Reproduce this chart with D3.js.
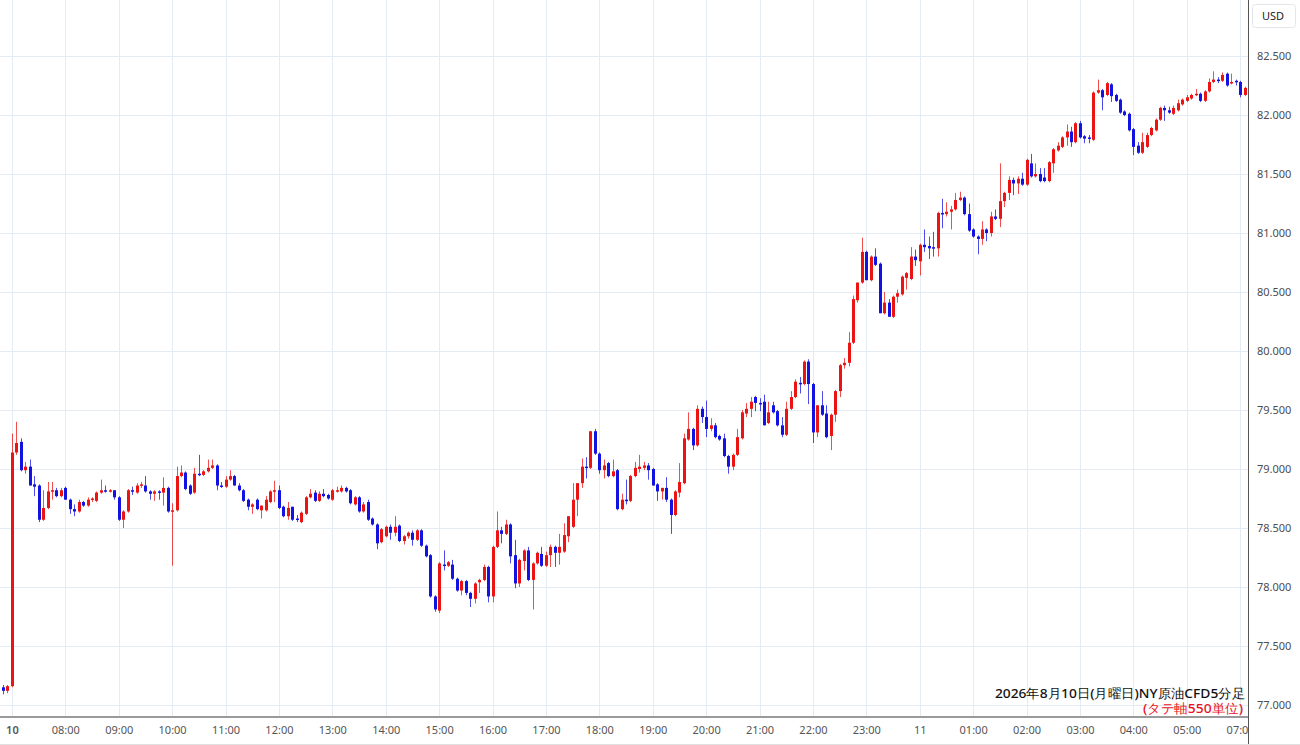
<!DOCTYPE html>
<html><head><meta charset="utf-8">
<script src="https://cdn.jsdelivr.net/npm/d3@7/dist/d3.min.js"></script>
<style>
html,body{margin:0;padding:0;background:#fff;}
svg{display:block;}
text{font-family:"Noto Sans","Open Sans",sans-serif;}
</style></head>
<body>
<svg id="chart" width="1300" height="745"></svg>
<script>
// ---- data (5-minute candles, index = candle number) ----
const opens = [77.15,77.12,77.16,79.14,79.23,78.99,79.02,78.87,78.86,78.57,78.67,78.81,78.82,78.77,78.84,78.74,78.66,78.64,78.72,78.69,
78.74,78.73,78.80,78.82,78.81,78.82,78.76,78.57,78.64,78.82,78.80,78.86,78.86,78.81,78.79,78.81,78.80,78.84,78.64,78.65,
78.94,78.97,78.86,78.80,78.96,78.95,78.98,79.01,79.03,78.86,78.85,78.91,78.94,78.86,78.82,78.74,78.68,78.74,78.65,78.65,
78.72,78.81,78.82,78.68,78.60,78.68,78.58,78.55,78.62,78.76,78.80,78.73,78.79,78.78,78.74,78.81,78.81,78.84,78.82,78.70,
78.76,78.64,78.72,78.58,78.53,78.38,78.43,78.51,78.46,78.52,78.39,78.43,78.46,78.40,78.48,78.35,78.27,77.92,77.80,78.19,
78.18,78.19,78.07,77.97,78.05,77.95,77.90,78.04,78.06,78.17,77.92,78.34,78.48,78.45,78.53,78.27,78.03,78.22,78.31,78.06,
78.20,78.28,78.18,78.27,78.34,78.29,78.30,78.43,78.51,78.74,78.88,79.02,79.01,79.32,79.13,78.99,79.05,78.94,78.99,78.66,
78.74,78.73,78.94,79.00,79.01,79.03,79.00,78.87,78.81,78.84,78.74,78.61,78.80,78.88,79.25,79.34,79.20,79.51,79.44,79.34,
79.37,79.28,79.26,79.11,79.02,79.12,79.26,79.47,79.51,79.61,79.56,79.57,79.39,79.54,79.49,79.37,79.29,79.51,79.61,79.73,
79.72,79.91,79.72,79.31,79.54,79.47,79.28,79.46,79.66,79.88,79.90,80.07,80.43,80.58,80.84,80.60,80.80,80.74,80.32,80.41,
80.29,80.46,80.48,80.62,80.61,80.80,80.76,80.90,80.89,80.88,80.87,81.17,81.16,81.18,81.20,81.28,81.30,81.16,81.03,80.97,
80.95,81.03,81.00,81.14,81.12,81.27,81.34,81.45,81.42,81.46,81.41,81.59,81.48,81.50,81.47,81.44,81.59,81.70,81.73,81.81,
81.86,81.77,81.93,81.82,81.81,81.79,82.19,82.21,82.17,82.26,82.17,82.13,82.03,82.01,81.88,81.74,81.68,81.73,81.83,81.87,
81.96,82.06,82.04,82.01,82.04,82.09,82.12,82.14,82.17,82.18,82.12,82.20,82.28,82.30,82.29,82.35,82.27,82.29,82.28,82.17];
const highs = [77.17,77.17,79.30,79.40,79.26,79.06,79.08,78.94,78.87,78.82,78.89,78.89,78.84,78.84,78.85,78.75,78.70,78.74,78.73,78.76,
78.76,78.81,78.91,78.86,78.83,78.82,78.77,78.65,78.83,78.85,78.88,78.89,78.94,78.82,78.82,78.82,78.93,78.85,78.71,79.02,
79.03,78.98,78.87,79.01,79.12,78.99,79.08,79.08,79.04,78.89,78.94,78.99,78.95,78.88,78.83,78.75,78.71,78.75,78.69,78.77,
78.82,78.90,78.86,78.69,78.72,78.68,78.61,78.64,78.77,78.83,78.82,78.81,78.83,78.79,78.83,78.85,78.86,78.85,78.83,78.77,
78.77,78.72,78.74,78.59,78.54,78.50,78.52,78.53,78.60,78.53,78.44,78.47,78.48,78.49,78.49,78.36,78.28,77.93,78.21,78.31,
78.22,78.23,78.08,78.06,78.06,77.96,78.04,78.07,78.19,78.18,78.35,78.64,78.51,78.57,78.54,78.40,78.24,78.32,78.34,78.21,
78.30,78.34,78.30,78.36,78.35,78.45,78.54,78.60,78.88,78.88,79.09,79.10,79.32,79.34,79.14,79.08,79.06,79.08,79.00,78.79,
78.91,78.95,79.06,79.12,79.06,79.05,79.01,78.88,78.84,78.93,78.75,78.82,79.05,79.30,79.48,79.35,79.54,79.53,79.58,79.43,
79.39,79.29,79.30,79.12,79.13,79.34,79.50,79.56,79.61,79.62,79.60,79.63,79.57,79.57,79.50,79.44,79.57,79.66,79.76,79.78,
79.92,79.93,79.73,79.54,79.66,79.54,79.47,79.67,79.89,79.94,80.16,80.47,80.58,80.96,80.85,80.81,80.87,80.75,80.50,80.44,
80.47,80.52,80.64,80.67,80.88,80.86,80.91,81.03,80.97,81.01,81.18,81.29,81.26,81.23,81.34,81.35,81.31,81.25,81.04,80.98,
81.10,81.04,81.18,81.20,81.59,81.35,81.48,81.47,81.48,81.51,81.63,81.67,81.59,81.55,81.55,81.61,81.72,81.77,81.82,81.92,
81.90,81.94,81.95,81.83,81.83,82.20,82.30,82.22,82.28,82.27,82.18,82.14,82.04,82.02,81.89,81.77,81.85,81.85,81.90,81.97,
82.07,82.08,82.07,82.08,82.13,82.14,82.17,82.18,82.22,82.19,82.21,82.31,82.37,82.32,82.36,82.36,82.35,82.30,82.29,82.24];
const lows = [77.09,77.10,77.15,79.12,78.98,78.96,78.86,78.77,78.55,78.56,78.66,78.74,78.76,78.76,78.74,78.62,78.60,78.63,78.68,78.68,
78.72,78.72,78.79,78.80,78.80,78.74,78.56,78.50,78.63,78.78,78.79,78.84,78.80,78.74,78.73,78.74,78.69,78.63,78.18,78.64,
78.93,78.82,78.78,78.79,78.94,78.94,78.97,79.00,78.82,78.84,78.84,78.90,78.86,78.81,78.72,78.65,78.62,78.65,78.58,78.64,
78.71,78.72,78.66,78.59,78.57,78.56,78.55,78.54,78.61,78.75,78.72,78.72,78.76,78.74,78.73,78.80,78.80,78.80,78.70,78.69,
78.63,78.63,78.56,78.52,78.32,78.37,78.42,78.40,78.43,78.38,78.36,78.41,78.35,78.39,78.34,78.25,77.91,77.79,77.78,78.14,
78.17,78.06,77.96,77.93,77.93,77.83,77.86,77.95,78.05,77.87,77.87,78.33,78.37,78.44,78.20,77.99,78.00,78.14,78.05,77.81,
78.19,78.17,78.17,78.17,78.17,78.19,78.29,78.38,78.50,78.60,78.84,78.92,79.00,79.12,78.96,78.92,78.93,78.93,78.65,78.65,
78.70,78.72,78.93,78.97,78.99,78.91,78.86,78.73,78.74,78.72,78.45,78.60,78.76,78.87,79.24,79.16,79.19,79.39,79.27,79.32,
79.26,79.24,79.10,78.96,78.99,79.11,79.25,79.44,79.44,79.49,79.49,79.37,79.38,79.47,79.36,79.27,79.28,79.50,79.60,79.64,
79.71,79.55,79.22,79.27,79.45,79.26,79.16,79.40,79.61,79.85,79.87,80.06,80.41,80.57,80.60,80.59,80.72,80.32,80.31,80.29,
80.28,80.41,80.47,80.52,80.60,80.72,80.64,80.84,80.78,80.80,80.80,81.04,81.14,81.03,81.19,81.27,81.15,81.01,80.96,80.82,
80.90,80.93,80.97,81.11,81.05,81.22,81.28,81.32,81.33,81.40,81.40,81.47,81.47,81.43,81.43,81.43,81.51,81.69,81.72,81.74,
81.73,81.76,81.80,81.76,81.76,81.78,82.18,82.04,82.16,82.11,82.11,82.01,81.99,81.86,81.66,81.67,81.67,81.72,81.82,81.86,
81.95,81.95,82.01,82.00,82.03,82.08,82.11,82.13,82.16,82.11,82.11,82.19,82.27,82.27,82.28,82.24,82.26,82.25,82.15,82.16];
const closes = [77.12,77.16,79.14,79.22,78.99,79.02,78.86,78.85,78.57,78.67,78.81,78.82,78.77,78.82,78.74,78.66,78.64,78.72,78.69,78.74,
78.75,78.80,78.82,78.81,78.82,78.76,78.57,78.64,78.82,78.81,78.86,78.87,78.81,78.79,78.81,78.80,78.84,78.64,78.65,78.94,
78.97,78.83,78.79,78.96,78.95,78.98,79.01,79.03,78.86,78.85,78.91,78.94,78.86,78.82,78.73,78.68,78.70,78.66,78.69,78.74,
78.81,78.82,78.67,78.60,78.67,78.57,78.57,78.63,78.76,78.79,78.73,78.79,78.77,78.75,78.82,78.82,78.84,78.81,78.71,78.76,
78.64,78.70,78.57,78.53,78.37,78.49,78.51,78.46,78.51,78.39,78.43,78.46,78.40,78.48,78.35,78.26,77.92,77.81,78.20,78.18,
78.21,78.07,77.97,78.05,77.95,77.90,78.03,78.06,78.17,77.92,78.34,78.48,78.45,78.53,78.26,78.03,78.23,78.31,78.06,78.20,
78.29,78.18,78.27,78.34,78.29,78.34,78.44,78.60,78.74,78.88,79.02,79.01,79.32,79.13,78.99,79.03,78.94,78.98,78.66,78.74,
78.73,78.94,79.01,79.02,79.03,78.99,78.86,78.81,78.84,78.74,78.61,78.81,78.89,79.26,79.34,79.20,79.51,79.44,79.34,79.37,
79.27,79.25,79.11,79.02,79.12,79.27,79.48,79.51,79.57,79.56,79.55,79.37,79.48,79.48,79.37,79.29,79.51,79.61,79.74,79.72,
79.91,79.72,79.31,79.54,79.46,79.27,79.46,79.66,79.88,79.90,80.07,80.44,80.58,80.84,80.60,80.80,80.73,80.32,80.41,80.29,
80.46,80.49,80.63,80.66,80.80,80.77,80.90,80.88,80.87,80.87,81.17,81.16,81.18,81.20,81.28,81.30,81.16,81.02,80.97,80.95,
81.03,81.00,81.14,81.12,81.27,81.34,81.45,81.42,81.46,81.41,81.62,81.48,81.50,81.44,81.44,81.60,81.71,81.74,81.81,81.86,
81.77,81.93,81.81,81.80,81.80,82.19,82.21,82.15,82.27,82.16,82.12,82.02,82.00,81.87,81.73,81.68,81.77,81.83,81.89,81.96,
82.06,82.04,82.02,82.06,82.10,82.13,82.15,82.17,82.18,82.12,82.20,82.28,82.30,82.29,82.34,82.25,82.28,82.28,82.17,82.23];

const timeLabels = ["10","08:00","09:00","10:00","11:00","12:00","13:00","14:00","15:00","16:00","17:00","18:00",
  "19:00","20:00","21:00","22:00","23:00","11","01:00","02:00","03:00","04:00","05:00","07:00"];
const timeTickIndex = [2,14,26,38,50,62,74,86,98,110,122,134,146,158,170,182,194,206,218,230,242,254,266,278];
const priceTicks = [77.0,77.5,78.0,78.5,79.0,79.5,80.0,80.5,81.0,81.5,82.0,82.5];
const currencyLabel = "USD";
const titleText = "2026年8月10日(月曜日)NY原油CFD5分足";
const noteText = "(タテ軸550単位)";

// ---- layout ----
const W = 1300, H = 745;
const plotRight = 1248, axisY = 717;
const upColor = "#ec1313", downColor = "#1212e2", gridColor = "#e4ebf2";

const svg = d3.select("#chart");
const candles = opens.map((o,i)=>({i, o, h:highs[i], l:lows[i], c:closes[i]}));

const x = d3.scaleLinear().domain([0, 279]).range([3, 1244.6]);
const y = d3.scaleLinear().domain([77, 82.5]).range([705, 56]);

const defs = svg.append("defs");
defs.append("clipPath").attr("id","plotclip")
  .append("rect").attr("x",0).attr("y",0).attr("width",plotRight).attr("height",axisY);
defs.append("clipPath").attr("id","plotclip2")
  .append("rect").attr("x",0).attr("y",-5).attr("width",plotRight).attr("height",40);

// grid
const grid = svg.append("g");
grid.selectAll("line.h").data(priceTicks).join("line")
  .attr("x1",0).attr("x2",plotRight)
  .attr("y1",d=>Math.round(y(d))+0.5).attr("y2",d=>Math.round(y(d))+0.5)
  .attr("stroke",gridColor).attr("stroke-width",1);
grid.selectAll("line.v").data(timeTickIndex).join("line")
  .attr("x1",d=>Math.round(x(d))+0.5).attr("x2",d=>Math.round(x(d))+0.5)
  .attr("y1",0).attr("y2",axisY)
  .attr("stroke",gridColor).attr("stroke-width",1);

// candles
const cg = svg.append("g").attr("clip-path","url(#plotclip)");
const bw = 3;
const g = cg.selectAll("g.c").data(candles).join("g");
g.append("line")
  .attr("x1",d=>Math.round(x(d.i))+0.5).attr("x2",d=>Math.round(x(d.i))+0.5)
  .attr("y1",d=>y(Math.max(d.h,d.o,d.c))).attr("y2",d=>y(Math.min(d.l,d.o,d.c)))
  .attr("stroke",d=>d.c>=d.o?upColor:downColor).attr("stroke-width",1)
  .attr("stroke-opacity",0.75);
g.append("rect")
  .attr("x",d=>Math.round(x(d.i))-1)
  .attr("width",bw)
  .attr("y",d=>y(Math.max(d.o,d.c)))
  .attr("height",d=>Math.max(1.5, Math.abs(y(d.o)-y(d.c))))
  .attr("fill",d=>d.c>=d.o?upColor:downColor);

// x axis
const xAxisG = svg.append("g").attr("transform",`translate(0,${axisY})`).attr("clip-path","url(#plotclip2)");
xAxisG.call(d3.axisBottom(x).tickValues(timeTickIndex).tickSize(0).tickPadding(9)
  .tickFormat((d,k)=>timeLabels[k]));
xAxisG.select(".domain").remove();
xAxisG.selectAll("text").attr("font-size","11px").attr("fill","#555")
  .attr("font-family","'Noto Sans',sans-serif")
  .attr("font-weight",(d,k)=>(k===0?"600":"400"));
svg.append("line").attr("x1",0).attr("x2",plotRight).attr("y1",axisY).attr("y2",axisY)
  .attr("stroke","#9a9a9a").attr("stroke-width",2);

// right price axis
svg.append("line").attr("x1",plotRight+0.5).attr("x2",plotRight+0.5).attr("y1",0).attr("y2",H)
  .attr("stroke","#555").attr("stroke-width",1);
const yAxisG = svg.append("g").attr("transform",`translate(${plotRight},0)`);
yAxisG.call(d3.axisRight(y).tickValues(priceTicks).tickSize(0).tickPadding(9).tickFormat(d3.format(".3f")));
yAxisG.select(".domain").remove();
yAxisG.selectAll("text").attr("font-size","11px").attr("fill","#4d4d4d")
  .attr("font-family","'Noto Sans',sans-serif");

// currency box
svg.append("rect").attr("x",1252.5).attr("y",4.5).attr("width",43).attr("height",23).attr("rx",3)
  .attr("fill","#fff").attr("stroke","#e3e6ea");
svg.append("text").attr("x",1273).attr("y",20).attr("text-anchor","middle")
  .attr("font-size","11px").attr("fill","#222").text(currencyLabel);

// bottom border
svg.append("line").attr("x1",0).attr("x2",W).attr("y1",H-0.5).attr("y2",H-0.5).attr("stroke","#e0e0e0");

// annotation
svg.append("text").attr("x",995).attr("y",697.5)
  .attr("textLength",250).attr("lengthAdjust","spacingAndGlyphs")
  .attr("font-family","'Noto Sans CJK JP',sans-serif").attr("font-size","13.4px").attr("font-weight","500")
  .attr("fill","#111").text(titleText);
svg.append("text").attr("x",1143).attr("y",713)
  .attr("textLength",100).attr("lengthAdjust","spacingAndGlyphs")
  .attr("font-family","'Noto Sans CJK JP',sans-serif").attr("font-size","13.4px").attr("font-weight","500")
  .attr("fill","#e8141e").text(noteText);
</script>
</body></html>
